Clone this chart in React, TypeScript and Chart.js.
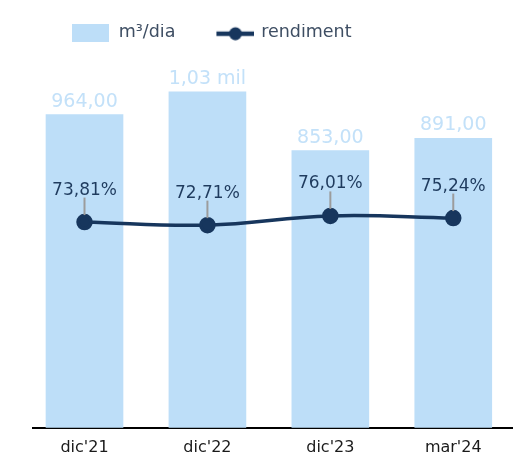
import React, { useEffect, useRef } from 'react';
import { Chart, registerables } from 'chart.js';

Chart.register(...registerables);

// ---- data ----
const categories: string[] = ["dic'21", "dic'22", "dic'23", "mar'24"];
const flowValues: number[] = [964, 1034, 853, 891];
const yieldValues: number[] = [73.81, 72.71, 76.01, 75.24];
const seriesNames: string[] = ['m³/dia', 'rendiment'];

// ---- styles ----
const FONT = "'DejaVu Sans', sans-serif";
const BAR_COLOR = '#bddef8';
const BAR_LABEL_COLOR = '#c3e1f9';
const LINE_COLOR = '#17365d';
const LINE_LABEL_COLOR = '#1f3b5e';
const LEADER_COLOR = '#9c9c9c';
const LEGEND_TEXT = '#3e4e63';

function fmtFlow(v: number): string {
  if (v >= 1000) return (v / 1000).toFixed(2).replace('.', ',') + ' mil';
  return v.toFixed(2).replace('.', ',');
}
function fmtPct(v: number): string {
  return v.toFixed(2).replace('.', ',') + '%';
}

function legendImage(kind: 'bar' | 'line'): HTMLCanvasElement {
  const c = document.createElement('canvas');
  if (kind === 'bar') {
    c.width = 77;
    c.height = 19;
    const ctx = c.getContext('2d')!;
    ctx.fillStyle = BAR_COLOR;
    ctx.fillRect(39, 0, 37, 19);
  } else {
    c.width = 81;
    c.height = 16;
    const ctx = c.getContext('2d')!;
    ctx.strokeStyle = LINE_COLOR;
    ctx.lineWidth = 4.5;
    ctx.beginPath();
    ctx.moveTo(43, 9);
    ctx.lineTo(81, 9);
    ctx.stroke();
    ctx.fillStyle = LINE_COLOR;
    ctx.beginPath();
    ctx.arc(62, 9, 6.5, 0, Math.PI * 2);
    ctx.fill();
  }
  return c;
}

const valueLabels = {
  id: 'valueLabels',
  afterDatasetsDraw(chart: any) {
    const ctx = chart.ctx;
    ctx.save();
    ctx.textAlign = 'center';
    ctx.textBaseline = 'alphabetic';
    const barMeta = chart.getDatasetMeta(0);
    ctx.font = `19px ${FONT}`;
    ctx.fillStyle = BAR_LABEL_COLOR;
    barMeta.data.forEach((el: any, i: number) => {
      ctx.fillText(fmtFlow(flowValues[i]), el.x, el.y - 8);
    });
    const lineMeta = chart.getDatasetMeta(1);
    lineMeta.data.forEach((el: any, i: number) => {
      ctx.strokeStyle = LEADER_COLOR;
      ctx.lineWidth = 2;
      ctx.beginPath();
      ctx.moveTo(el.x, el.y - 7);
      ctx.lineTo(el.x, el.y - 24.5);
      ctx.stroke();
      ctx.font = `17px ${FONT}`;
      ctx.fillStyle = LINE_LABEL_COLOR;
      ctx.fillText(fmtPct(yieldValues[i]), el.x, el.y - 27.5);
    });
    ctx.restore();
  },
};

export default function App() {
  const ref = useRef<HTMLCanvasElement | null>(null);

  useEffect(() => {
    if (!ref.current) return;
    const images = [legendImage('bar'), legendImage('line')];
    const chart = new Chart(ref.current, {
      type: 'bar',
      data: {
        datasets: [
          {
            type: 'bar',
            label: seriesNames[0],
            data: categories.map((_, i) => ({ x: i, y: flowValues[i] })),
            backgroundColor: BAR_COLOR,
            barThickness: 77,
            yAxisID: 'y',
            order: 2,
          } as any,
          {
            type: 'line',
            label: seriesNames[1],
            data: categories.map((_, i) => ({ x: i, y: yieldValues[i] })),
            borderColor: LINE_COLOR,
            backgroundColor: LINE_COLOR,
            borderWidth: 3.5,
            pointRadius: 6.5,
            pointBackgroundColor: LINE_COLOR,
            pointBorderColor: LINE_COLOR,
            tension: 0.4,
            yAxisID: 'y2',
            order: 1,
          } as any,
        ],
      },
      options: {
        responsive: false,
        animation: false,
        devicePixelRatio: 1,
        layout: { autoPadding: false, padding: { left: 33, right: 0, top: 24, bottom: -5 } },
        scales: {
          x: {
            type: 'linear',
            min: -0.419,
            max: 3.486,
            offset: false,
            grid: { display: false, drawTicks: false },
            border: { display: true, color: '#000000', width: 2 },
            afterBuildTicks: (scale: any) => {
              scale.ticks = categories.map((_, i) => ({ value: i }));
            },
            afterFit: (scale: any) => {
              scale.paddingLeft = 0;
              scale.paddingRight = 0;
            },
            ticks: {
              autoSkip: false,
              maxRotation: 0,
              padding: 10,
              color: '#1a1a1a',
              font: { family: FONT, size: 16 },
              callback: (v: any) => (categories[v] !== undefined ? categories[v] : ''),
            },
          },
          y: { display: false, min: 0, max: 1158 },
          y2: { display: false, min: 0, max: 135 },
        },
        plugins: {
          legend: {
            display: true,
            position: 'top',
            align: 'start',
            fullSize: true,
            labels: {
              usePointStyle: true,
              pointStyleWidth: 77,
              padding: 0,
              color: LEGEND_TEXT,
              font: { family: FONT, size: 17.5 },
              generateLabels: (c: any) =>
                c.data.datasets.map((ds: any, i: number) => ({
                  text: ds.label,
                  pointStyle: images[i],
                  fillStyle: 'transparent',
                  strokeStyle: 'transparent',
                  lineWidth: 0,
                  hidden: false,
                  datasetIndex: i,
                  fontColor: LEGEND_TEXT,
                })),
            },
          },
          tooltip: { enabled: false },
        },
      } as any,
      plugins: [valueLabels],
    });
    return () => chart.destroy();
  }, []);

  return (
    <div style={{ position: 'absolute', left: 0, top: 0, width: 513, height: 462 }}>
      <canvas ref={ref} width={513} height={462} style={{ width: 513, height: 462, display: 'block' }} />
    </div>
  );
}
